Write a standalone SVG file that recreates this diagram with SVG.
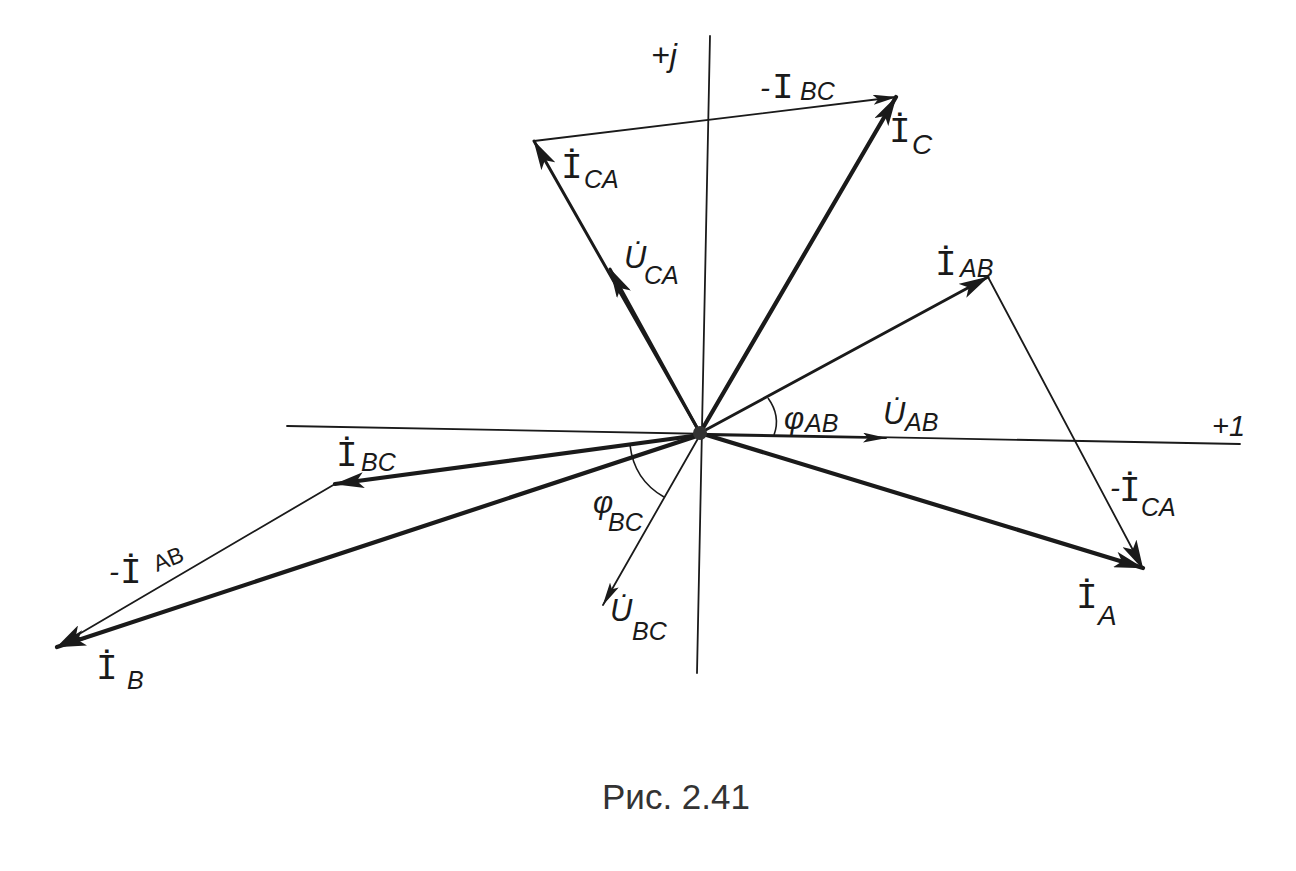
<svg xmlns="http://www.w3.org/2000/svg" width="1296" height="871" viewBox="0 0 1296 871">
<style>
.t{fill:none;stroke:#1a1a1a;stroke-width:1.8;stroke-linecap:round}
.m{fill:none;stroke:#1a1a1a;stroke-width:3;stroke-linecap:round}
.h{fill:none;stroke:#1a1a1a;stroke-width:4.2;stroke-linecap:round}
.a{fill:none;stroke:#1a1a1a;stroke-width:1.6}
.l{font-family:"Liberation Sans",sans-serif;font-style:italic;fill:#1a1a1a;font-size:29px}
.i{font-family:"Liberation Mono",monospace;font-style:normal;font-size:36px}
.s{font-size:25px}
.c{font-family:"Liberation Sans",sans-serif;fill:#333;font-size:35px}
</style>
<defs>
<marker id="ah" viewBox="0 0 30 16" refX="29" refY="8" markerWidth="30" markerHeight="16" markerUnits="userSpaceOnUse" orient="auto"><path d="M0 0L30 8L0 16L7 8Z" fill="#1a1a1a"/></marker>
<marker id="as" viewBox="0 0 24 10" refX="23" refY="5" markerWidth="24" markerHeight="10" markerUnits="userSpaceOnUse" orient="auto"><path d="M0 0L24 5L0 10L5 5Z" fill="#1a1a1a"/></marker>
</defs>
<rect width="1296" height="871" fill="#fff"/>
<g id="connectors">
<line class="t" x1="710" y1="36" x2="697" y2="673"/>
<line class="t" x1="287" y1="426" x2="1240" y2="444"/>
<line class="t" x1="700" y1="433" x2="886" y2="438" marker-end="url(#as)" style="display:none"/>
<line class="t" x1="700" y1="435" x2="886" y2="438" marker-end="url(#as)"/>
<line class="t" x1="534" y1="141" x2="896" y2="97" marker-end="url(#as)"/>
<line class="h" x1="700" y1="433" x2="896" y2="97" marker-end="url(#ah)"/>
<line class="m" x1="700" y1="433" x2="534" y2="141" marker-end="url(#ah)"/>
<line class="m" x1="700" y1="433" x2="610" y2="269" marker-end="url(#ah)"/>
<line class="m" x1="700" y1="433" x2="988" y2="277" marker-end="url(#ah)"/>
<line class="t" x1="988" y1="277" x2="1143" y2="569" marker-end="url(#ah)"/>
<line class="h" x1="700" y1="433" x2="1143" y2="568" marker-end="url(#ah)"/>
<line class="h" x1="700" y1="435" x2="335" y2="484" marker-end="url(#ah)"/>
<line class="t" x1="335" y1="484" x2="57" y2="647" marker-end="url(#ah)"/>
<line class="h" x1="700" y1="435" x2="57" y2="647" marker-end="url(#ah)"/>
<line class="t" x1="700" y1="435" x2="603" y2="605" marker-end="url(#as)"/>
<path class="a" d="M768 398Q781 416 774 435"/>
<path class="a" d="M630 445Q634 480 664 497"/>
<circle cx="700" cy="433" r="7" fill="#333"/>
</g>
<g id="label-plus-j"><text class="l" x="651" y="66" font-size="32" style="font-size:32px">+j</text></g>
<g id="label-minus-IBC"><text class="l" x="760" y="98" style="font-size:30px">-<tspan class="i" x="772" y="98">I</tspan><tspan class="s" x="800" y="100">BC</tspan></text></g>
<g id="label-IC"><text class="l" x="889" y="142"><tspan class="i">İ</tspan><tspan class="s" x="912" y="154" style="font-size:28px">C</tspan></text></g>
<g id="label-ICA"><text class="l" x="561" y="178"><tspan class="i">İ</tspan><tspan class="s" x="584" y="188">CA</tspan></text></g>
<g id="label-UCA"><text class="l" x="624" y="268" style="font-size:31px">U̇<tspan class="s" x="644" y="284">CA</tspan></text></g>
<g id="label-IAB"><text class="l" x="935" y="275"><tspan class="i">İ</tspan><tspan class="s" x="960" y="277">AB</tspan></text></g>
<g id="label-phiAB"><text class="l" x="784" y="429" style="font-size:31px">φ<tspan class="s" x="805" y="432">AB</tspan></text></g>
<g id="label-UAB"><text class="l" x="883" y="424" style="font-size:31px">U̇<tspan class="s" x="905" y="431">AB</tspan></text></g>
<g id="label-plus-1"><text class="l" x="1212" y="436" style="font-size:29px">+1</text></g>
<g id="label-minus-ICA"><text class="l" x="1110" y="498" style="font-size:30px">-<tspan class="i" x="1119" y="501">İ</tspan><tspan class="s" x="1141" y="516">CA</tspan></text></g>
<g id="label-IA"><text class="l" x="1076" y="608"><tspan class="i">İ</tspan><tspan class="s" x="1098" y="625" style="font-size:28px">A</tspan></text></g>
<g id="label-IBC"><text class="l" x="336" y="466"><tspan class="i">İ</tspan><tspan class="s" x="361" y="471">BC</tspan></text></g>
<g id="label-minus-IAB"><text class="l" x="109" y="582" style="font-size:30px">-<tspan class="i" x="120" y="583">İ</tspan></text><text class="l" transform="translate(157 572) rotate(-22)" style="font-size:23px;font-style:normal">AB</text></g>
<g id="label-IB"><text class="l" x="96" y="679"><tspan class="i">İ</tspan><tspan class="s" x="127" y="689">B</tspan></text></g>
<g id="label-phiBC"><text class="l" x="593" y="513" style="font-size:31px">φ<tspan class="s" x="608" y="531">BC</tspan></text></g>
<g id="label-UBC"><text class="l" x="610" y="621" style="font-size:31px">U̇<tspan class="s" x="632" y="640">BC</tspan></text></g>
<g id="caption"><text class="c" x="602" y="809">Рис. 2.41</text></g>
</svg>
